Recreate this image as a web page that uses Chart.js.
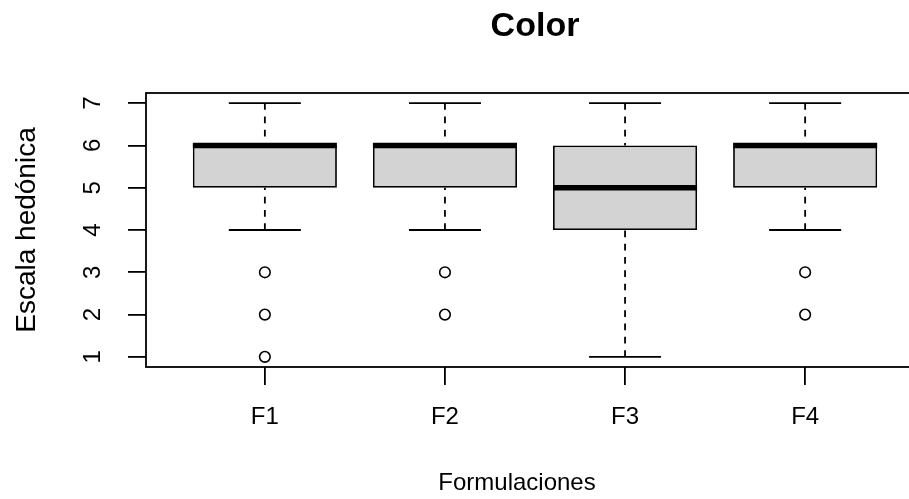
<!DOCTYPE html>
<html><head><meta charset="utf-8">
<script src="https://cdn.jsdelivr.net/npm/chart.js@4/dist/chart.umd.min.js"></script>
<style>html,body{margin:0;padding:0;background:#fff;overflow:hidden;width:909px;height:499px}canvas{display:block}</style>
</head><body>
<canvas id="c" width="940" height="499"></canvas>
<script>
const categories = ['F1', 'F2', 'F3', 'F4'];
const whiskerLow = [4, 4, 1, 4];
const q1 = [5, 5, 4, 5];
const median = [6, 6, 5, 6];
const q3 = [6, 6, 6, 6];
const whiskerHigh = [7, 7, 7, 7];
const outliers = [[3, 2, 1], [3, 2], [], [3, 2]];
const yTickValues = [1, 2, 3, 4, 5, 6, 7];
const chartTitle = 'Color';
const xTitle = 'Formulaciones';
const yTitle = 'Escala hedónica';

const FONT = "'Liberation Sans', Arial, sans-serif";
const LW = 1.8;

const boxData = categories.map((c, i) => ({ x: i + 1, y: [q1[i], q3[i]] }));
const outlierData = [];
outliers.forEach((arr, i) => arr.forEach(v => outlierData.push({ x: i + 1, y: v })));

const boxPlugin = {
  id: 'boxparts',
  afterDatasetsDraw(chart) {
    const ctx = chart.ctx, xs = chart.scales.x, ys = chart.scales.y;
    const meta = chart.getDatasetMeta(0);
    ctx.save();
    ctx.strokeStyle = '#000';
    ctx.lineCap = 'butt';
    categories.forEach((c, i) => {
      const bar = meta.data[i];
      const cx = xs.getPixelForValue(i + 1);
      const half = bar.width / 2;
      const yq1 = ys.getPixelForValue(q1[i]), yq3 = ys.getPixelForValue(q3[i]);
      const ylo = ys.getPixelForValue(whiskerLow[i]), yhi = ys.getPixelForValue(whiskerHigh[i]);
      const ym = ys.getPixelForValue(median[i]);
      ctx.lineWidth = 5.5;
      ctx.beginPath(); ctx.moveTo(cx - half, ym); ctx.lineTo(cx + half, ym); ctx.stroke();
      ctx.lineWidth = LW;
      ctx.setLineDash([6.7, 6.6]);
      ctx.beginPath(); ctx.moveTo(cx, yhi); ctx.lineTo(cx, yq3); ctx.stroke();
      ctx.beginPath(); ctx.moveTo(cx, ylo); ctx.lineTo(cx, yq1); ctx.stroke();
      ctx.setLineDash([]);
      ctx.beginPath();
      ctx.moveTo(cx - half / 2, yhi); ctx.lineTo(cx + half / 2, yhi);
      ctx.moveTo(cx - half / 2, ylo); ctx.lineTo(cx + half / 2, ylo);
      ctx.stroke();
    });
    ctx.restore();
  },
  afterDraw(chart) {
    const ctx = chart.ctx, a = chart.chartArea;
    ctx.save();
    ctx.strokeStyle = '#000';
    ctx.lineWidth = LW;
    ctx.strokeRect(a.left, a.top, a.right - a.left, a.bottom - a.top);
    ctx.fillStyle = '#000';
    ctx.textAlign = 'center';
    ctx.textBaseline = 'middle';
    ctx.font = "bold 34px " + FONT;
    ctx.fillText(chartTitle, (a.left + a.right) / 2, 27);
    ctx.font = "24px " + FONT;
    ctx.fillText(xTitle, (a.left + a.right) / 2 - 18, 483);
    ctx.restore();
  }
};

const axisFont = { family: FONT, size: 24 };

new Chart(document.getElementById('c'), {
  type: 'bar',
  data: {
    datasets: [
      {
        type: 'bar',
        data: boxData,
        backgroundColor: '#D3D3D3',
        borderColor: '#000',
        borderWidth: LW,
        borderSkipped: false,
        barPercentage: 0.8,
        categoryPercentage: 1
      },
      {
        type: 'scatter',
        data: outlierData,
        pointStyle: 'circle',
        pointRadius: 5.3,
        pointBackgroundColor: '#fff',
        pointBorderColor: '#000',
        pointBorderWidth: 1.6,
        showLine: false
      }
    ]
  },
  options: {
    responsive: false,
    animation: false,
    devicePixelRatio: 1,
    layout: { padding: { top: 93, right: 16, left: 0, bottom: 0 } },
    plugins: { legend: { display: false }, tooltip: { enabled: false }, title: { display: false } },
    scales: {
      x: {
        type: 'linear',
        offset: false,
        min: 0.34,
        max: 4.66,
        afterBuildTicks: s => { s.ticks = categories.map((c, i) => ({ value: i + 1 })); },
        afterFit: s => { s.height = 132; },
        ticks: {
          callback: (v, idx) => categories[idx],
          font: axisFont, color: '#000', padding: 18, autoSkip: false, maxRotation: 0, minRotation: 0
        },
        grid: { display: true, offset: false, drawOnChartArea: false, drawTicks: true, tickLength: 18, color: '#000', lineWidth: LW },
        border: { display: false },
        title: { display: false }
      },
      y: {
        type: 'linear',
        min: 0.76,
        max: 7.24,
        afterBuildTicks: s => { s.ticks = yTickValues.map(v => ({ value: v })); },
        afterFit: s => { s.width = 146; },
        ticks: {
          font: axisFont, color: '#000', padding: 28, minRotation: 90, maxRotation: 90, crossAlign: 'center'
        },
        grid: { display: true, drawOnChartArea: false, drawTicks: true, tickLength: 18, color: '#000', lineWidth: LW },
        border: { display: false },
        title: { display: true, text: yTitle, font: { family: FONT, size: 28 }, color: '#000', padding: { top: 10, bottom: 0 } }
      }
    }
  },
  plugins: [boxPlugin]
});
</script>
</body></html>
